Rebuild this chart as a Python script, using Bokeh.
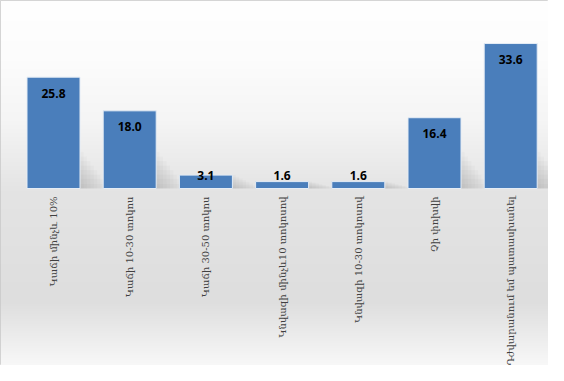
import numpy as np
from bokeh.plotting import figure
from bokeh.models import Range1d, ColumnDataSource
from bokeh.core.properties import value
from bokeh.embed import file_html
from bokeh.resources import INLINE

categories = [
    "Կաճի մինչև 10%",
    "Կաճի 10-30 տոկոս",
    "Կաճի 30-50 տոկոս",
    "Կնվազի մինչև10 տոկոսով",
    "Կնվազի 10-30 տոկոսով",
    "Չի փոխվի",
    "Դժվարանում եմ պատասխանել",
]
values = [25.8, 18.0, 3.1, 1.6, 1.6, 16.4, 33.6]
value_labels = ["25.8", "18.0", "3.1", "1.6", "1.6", "16.4", "33.6"]

W, H = 548, 365
PPU = 4.315          # pixels per value unit
BASE = 188           # baseline pixel from top
y1 = BASE / PPU
y0 = -(H - BASE) / PPU
SP = 76.2            # pixels per category
x0 = -53 / SP
x1 = x0 + W / SP
BW = 53 / SP

p = figure(width=W, height=H, output_backend="svg", toolbar_location=None,
           x_range=Range1d(x0, x1), y_range=Range1d(y0, y1),
           min_border=0, min_border_left=0, min_border_right=0,
           min_border_top=0, min_border_bottom=0)
p.xaxis.visible = False
p.yaxis.visible = False
p.grid.visible = False
p.outline_line_color = "#C8C8C8"
p.outline_line_width = 1
p.background_fill_color = "white"
p.border_fill_color = "white"

# background vertical gradient (styling)
stops_px = np.array([0, 60, 120, 190, 300, 381])
stops_c = np.array([255, 252, 245, 228, 222, 255])
rows = np.arange(H)
gray = np.interp(rows, stops_px, stops_c).astype(np.uint32)
gray = gray[::-1]
img = (np.uint32(255) << 24) | (gray << 16) | (gray << 8) | gray
img = img.reshape(H, 1).astype(np.uint32)
p.image_rgba(image=[img], x=x0, y=y0, dw=x1 - x0, dh=y1 - y0)

xs = list(range(len(categories)))
label_y = [max(v - 16 / PPU, 13 / PPU) for v in values]

src = ColumnDataSource(dict(x=xs, top=values, cat=categories, lab=value_labels, ly=label_y))

# soft floor shadows to the right of the bars (styling)
n = 8
for i in range(1, n + 1):
    w = 0.045 * i
    sh_top = [min(v, 8.5) * (1 - (i - 1) / n) for v in values]
    p.vbar(x=[x + BW / 2 + w / 2 for x in xs], top=sh_top, width=w, bottom=0,
           fill_color="#505050", fill_alpha=0.028, line_color=None)

p.vbar(x="x", top="top", width=BW, bottom=0, source=src,
       fill_color="#4A7EBB", line_color="#E4ECF5", line_width=1)

p.text(x="x", y="ly", text="lab", source=src, text_align="center", text_baseline="middle",
       text_font=value("Open Sans"), text_font_style="bold", text_font_size="12px",
       text_color="black")

p.text(x="x", y=-8 / PPU, text="cat", source=src,
       angle=np.pi / 2, text_align="right", text_baseline="middle",
       text_font=value("DejaVu Serif"), text_font_size="10px", text_color="#404040")

open("out.html", "w").write(file_html(p, INLINE))
